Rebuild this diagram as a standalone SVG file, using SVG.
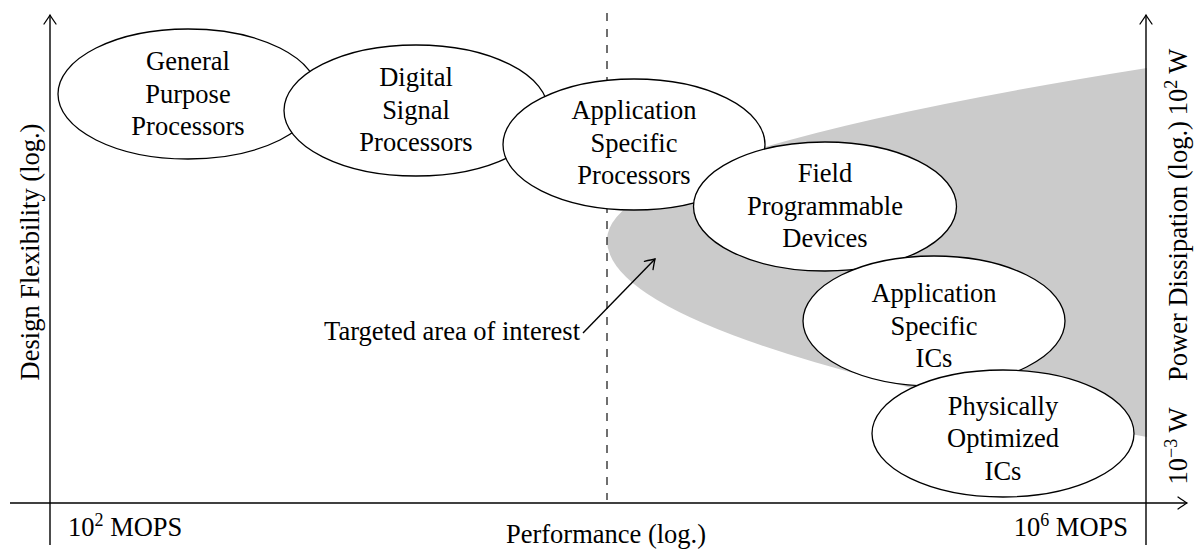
<svg xmlns="http://www.w3.org/2000/svg" width="1197" height="550" viewBox="0 0 1197 550">
  <style>
    .txt { font-family: "Liberation Serif", "Times New Roman", serif; font-size: 26.5px; fill: #000; }
    .mid { text-anchor: middle; }
    .node ellipse { fill: #fff; stroke: #000; stroke-width: 1.3; }
    .axis { fill: none; stroke: #000; stroke-width: 1.4; }
    .dash { fill: none; stroke: #333; stroke-width: 1.4; stroke-dasharray: 8 8; }
    .region { fill: #cbcbcb; stroke: none; }
  </style>
  <defs>
    <marker id="tip" markerUnits="userSpaceOnUse" markerWidth="14" markerHeight="16" viewBox="-11 -8 13 16" refX="0" refY="0" orient="auto">
      <path d="M -9 -6 Q -3 -1.8 0 0 Q -3 1.8 -9 6" fill="none" stroke="#000" stroke-width="1.3" stroke-linecap="round"/>
    </marker>
  </defs>

  <rect width="1197" height="550" fill="#fff"/>

  <!-- shaded target region -->
  <path class="region" d="M 1147 68 Q 607 154 607 240 Q 607 338.5 1147 437 Z"/>

  <!-- axes, divider and pointer -->
  <g id="connectors">
    <line class="dash" x1="607" y1="13" x2="607" y2="500"/>
    <line class="axis" x1="10" y1="503" x2="1187" y2="503" marker-end="url(#tip)"/>
    <line class="axis" x1="50" y1="545" x2="50" y2="15" marker-end="url(#tip)"/>
    <line class="axis" x1="1146" y1="545" x2="1146" y2="15" marker-end="url(#tip)"/>
    <line class="axis" x1="583" y1="333" x2="655" y2="259" stroke-width="1.3" marker-end="url(#tip)"/>
  </g>

  <g id="gpp" class="node">
    <ellipse cx="188" cy="94" rx="130" ry="65"/>
    <text class="txt mid" x="188" y="70">General</text>
    <text class="txt mid" x="188" y="102.5">Purpose</text>
    <text class="txt mid" x="188" y="135">Processors</text>
  </g>

  <g id="dsp" class="node">
    <ellipse cx="416" cy="110.5" rx="132" ry="65.5"/>
    <text class="txt mid" x="416" y="86">Digital</text>
    <text class="txt mid" x="416" y="118.5">Signal</text>
    <text class="txt mid" x="416" y="151">Processors</text>
  </g>

  <g id="asp" class="node">
    <ellipse cx="634" cy="144.5" rx="131" ry="65.5"/>
    <text class="txt mid" x="634" y="119">Application</text>
    <text class="txt mid" x="634" y="151.5">Specific</text>
    <text class="txt mid" x="634" y="184">Processors</text>
  </g>

  <g id="fpd" class="node">
    <ellipse cx="825" cy="206.5" rx="131.5" ry="64.5"/>
    <text class="txt mid" x="825" y="182">Field</text>
    <text class="txt mid" x="825" y="214.5">Programmable</text>
    <text class="txt mid" x="825" y="247">Devices</text>
  </g>

  <g id="asic" class="node">
    <ellipse cx="934" cy="321" rx="131" ry="65"/>
    <text class="txt mid" x="934" y="302">Application</text>
    <text class="txt mid" x="934" y="334.5">Specific</text>
    <text class="txt mid" x="934" y="367">ICs</text>
  </g>

  <g id="poic" class="node">
    <ellipse cx="1003" cy="433.5" rx="131" ry="63.5"/>
    <text class="txt mid" x="1003" y="414.5">Physically</text>
    <text class="txt mid" x="1003" y="447">Optimized</text>
    <text class="txt mid" x="1003" y="479.5">ICs</text>
  </g>

  <!-- axis labels -->
  <g id="labels">
    <text class="txt" x="580" y="340" text-anchor="end">Targeted area of interest</text>
    <text class="txt mid" x="606" y="543">Performance (log.)</text>
    <text class="txt" x="68" y="536">10<tspan font-size="18" dy="-10">2</tspan><tspan dy="10"> MOPS</tspan></text>
    <text class="txt" x="1128" y="536" text-anchor="end">10<tspan font-size="18" dy="-10">6</tspan><tspan dy="10"> MOPS</tspan></text>
    <text class="txt mid" transform="translate(39 252) rotate(-90)">Design Flexibility (log.)</text>
    <text class="txt mid" transform="translate(1187 251) rotate(-90)">Power Dissipation (log.)</text>
    <text class="txt mid" transform="translate(1187 82) rotate(-90)">10<tspan font-size="18" dy="-10">2</tspan><tspan dy="10"> W</tspan></text>
    <text class="txt mid" transform="translate(1187 446) rotate(-90)">10<tspan font-size="18" dy="-10">−3</tspan><tspan dy="10"> W</tspan></text>
  </g>
</svg>
